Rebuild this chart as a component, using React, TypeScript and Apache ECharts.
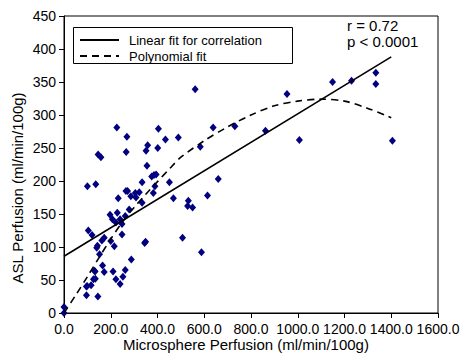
import React, { useEffect, useRef } from "react";
import * as echarts from "echarts";

// Scatter observations: [microsphere perfusion, ASL perfusion]
const scatterPoints: [number, number][] = [
  [0, 0], [0, 9],
  [96, 27], [145, 25], [96, 40], [99, 41], [116, 42], [126, 51], [134, 52], [130, 64], [133, 63],
  [172, 62], [165, 72], [152, 89], [140, 99], [143, 102], [162, 110], [172, 114], [104, 125], [120, 118],
  [100, 192], [136, 195], [146, 240], [158, 236],
  [200, 109], [210, 63], [222, 51], [240, 44], [252, 55], [262, 65], [215, 101], [248, 119], [248, 135],
  [222, 137], [207, 142], [240, 142], [262, 147], [197, 149], [228, 152], [279, 157], [232, 174],
  [265, 185], [272, 185], [286, 177], [305, 182], [308, 175], [322, 183], [334, 198], [334, 167],
  [288, 81], [226, 281], [269, 267], [266, 244],
  [345, 106], [349, 108], [351, 246], [358, 254], [355, 223], [375, 207], [385, 209], [394, 210],
  [382, 182], [389, 192], [404, 279], [401, 250], [434, 263], [451, 198], [468, 174], [489, 266],
  [507, 114], [529, 162], [532, 170], [550, 160], [561, 339], [583, 252], [588, 92], [614, 178],
  [638, 281], [660, 203], [731, 283], [862, 276], [954, 332], [1007, 262], [1149, 350], [1230, 352],
  [1334, 364], [1334, 347], [1405, 261],
];

// Linear fit end points
const linearFit: [number, number][] = [
  [0, 86],
  [1400, 388],
];

// Polynomial fit curve
const polyFit: [number, number][] = [
  [0, 0], [50, 27], [100, 55], [150, 84], [200, 112], [250, 138], [300, 160], [350, 180],
  [400, 199], [450, 218], [500, 236], [600, 261], [700, 282], [800, 300], [900, 314],
  [1000, 321], [1100, 324], [1200, 321], [1300, 310], [1400, 296],
];

const seriesNames = ["Linear fit for correlation", "Polynomial fit"];
const statLines = ["r = 0.72", "p < 0.0001"];
const xAxisTitle = "Microsphere Perfusion (ml/min/100g)";
const yAxisTitle = "ASL Perfusion (ml/min/100g)";

const FONT = "'Liberation Sans', Arial, sans-serif";
const DASH = [7, 5];

export default function App() {
  const ref = useRef<HTMLDivElement>(null);

  useEffect(() => {
    if (!ref.current) return;
    const chart = echarts.init(ref.current, undefined, { renderer: "svg" });
    chart.setOption({
      animation: false,
      backgroundColor: "#ffffff",
      textStyle: { fontFamily: FONT, color: "#000" },
      grid: {
        left: 64,
        right: 25,
        top: 16,
        bottom: 40,
        show: true,
        borderColor: "#000",
        borderWidth: 1,
        backgroundColor: "transparent",
      },
      xAxis: {
        type: "value",
        min: 0,
        max: 1600,
        interval: 200,
        axisLine: { show: true, onZero: false, lineStyle: { color: "#000", width: 1 } },
        axisTick: { show: true, length: 5, lineStyle: { color: "#000" } },
        axisLabel: {
          fontFamily: FONT,
          fontSize: 14,
          color: "#000",
          margin: 9,
          formatter: (v: number) => v.toFixed(1),
        },
        splitLine: { show: false },
      },
      yAxis: {
        type: "value",
        min: 0,
        max: 450,
        interval: 50,
        axisLine: { show: true, onZero: false, lineStyle: { color: "#000", width: 1 } },
        axisTick: { show: true, length: 5, lineStyle: { color: "#000" } },
        axisLabel: { fontFamily: FONT, fontSize: 14, color: "#000", margin: 8 },
        splitLine: { show: false },
      },
      graphic: [
        // legend box
        {
          type: "rect",
          shape: { x: 73.5, y: 27.5, width: 219, height: 36 },
          style: { fill: "#fff", stroke: "#000", lineWidth: 1 },
          z: 10,
        },
        {
          type: "line",
          shape: { x1: 80, y1: 40, x2: 119, y2: 40 },
          style: { stroke: "#000", lineWidth: 2 },
          z: 11,
        },
        {
          type: "text",
          x: 129,
          y: 40,
          style: {
            text: seriesNames[0],
            font: `13px ${FONT}`,
            fill: "#000",
            textVerticalAlign: "middle",
          },
          z: 11,
        },
        {
          type: "line",
          shape: { x1: 80, y1: 56, x2: 119, y2: 56 },
          style: { stroke: "#000", lineWidth: 2, lineDash: DASH },
          z: 11,
        },
        {
          type: "text",
          x: 129,
          y: 56,
          style: {
            text: seriesNames[1],
            font: `13px ${FONT}`,
            fill: "#000",
            textVerticalAlign: "middle",
          },
          z: 11,
        },
        // statistics
        {
          type: "text",
          left: 347,
          top: 18,
          style: { text: statLines[0], font: `15px ${FONT}`, fill: "#000" },
        },
        {
          type: "text",
          left: 347,
          top: 34,
          style: { text: statLines[1], font: `15px ${FONT}`, fill: "#000" },
        },
        // axis titles
        {
          type: "text",
          x: 246,
          y: 344,
          style: {
            text: xAxisTitle,
            font: `15px ${FONT}`,
            fill: "#000",
            textAlign: "center",
            textVerticalAlign: "middle",
          },
        },
        {
          type: "text",
          x: 17,
          y: 188,
          rotation: Math.PI / 2,
          style: {
            text: yAxisTitle,
            font: `15px ${FONT}`,
            fill: "#000",
            textAlign: "center",
            textVerticalAlign: "middle",
          },
        },
      ],
      series: [
        {
          type: "scatter",
          name: "data",
          data: scatterPoints,
          symbol: "diamond",
          symbolSize: [7, 8],
          itemStyle: { color: "#000080", opacity: 1 },
          z: 3,
        },
        {
          type: "line",
          name: seriesNames[0],
          data: linearFit,
          symbol: "none",
          lineStyle: { color: "#000", width: 1.6, type: "solid" },
          z: 4,
        },
        {
          type: "line",
          name: seriesNames[1],
          data: polyFit,
          symbol: "none",
          smooth: 0.3,
          lineStyle: { color: "#000", width: 1.6, type: DASH },
          z: 4,
        },
      ],
    });
    return () => chart.dispose();
  }, []);

  return (
    <div
      ref={ref}
      style={{ position: "fixed", left: 0, top: 0, width: 463, height: 353, background: "#fff" }}
    />
  );
}
